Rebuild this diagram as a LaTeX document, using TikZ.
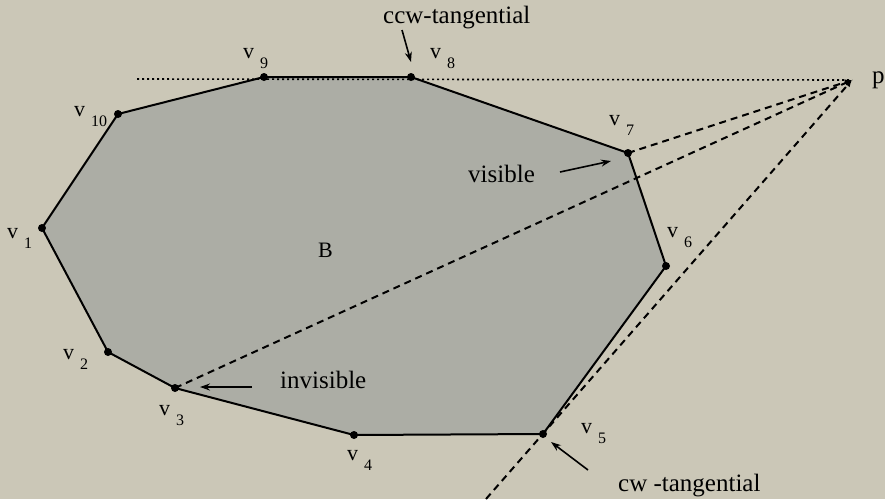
\documentclass[tikz,border=0pt]{standalone}
\usepackage{fontspec}
\setmainfont{Liberation Serif}
\usetikzlibrary{arrows.meta}
\definecolor{bgc}{RGB}{203,199,183}
\definecolor{polyc}{RGB}{172,173,165}
\newcommand{\vlab}[1]{{\fontsize{22}{22}\selectfont v}\kern6pt\raisebox{-10pt}{\fontsize{16}{16}\selectfont #1}}
\begin{document}
\begin{tikzpicture}[x=1pt,y=-1pt,
  vdot/.style={circle,fill=black,inner sep=0pt,minimum size=8pt},
  edge/.style={line width=2pt,line join=round},
  lab/.style={anchor=base west,inner sep=0pt},
  word/.style={anchor=base west,inner sep=0pt,font=\fontsize{25}{25}\selectfont},
  dashline/.style={line width=2pt,dash pattern=on 7pt off 5pt,-{Latex[length=7pt,width=6pt]}},
  dotline/.style={line width=1.6pt,dash pattern=on 2pt off 3pt},
  annot/.style={line width=1.6pt,-{Stealth[length=10pt,width=7pt]}}]
\fill[bgc] (0,0) rectangle (885,499);
\useasboundingbox (0,0) rectangle (885,499);
% vertex positions
\coordinate (P1) at (42,228);
\coordinate (P2) at (108,352);
\coordinate (P3) at (175,388);
\coordinate (P4) at (354,435);
\coordinate (P5) at (543,434);
\coordinate (P6) at (666,266);
\coordinate (P7) at (628,153);
\coordinate (P8) at (411,77);
\coordinate (P9) at (264,77);
\coordinate (P10) at (118,114);
\coordinate (p) at (852,80);
% polygon B
\fill[polyc] (P1) -- (P2) -- (P3) -- (P4) -- (P5) -- (P6) -- (P7) -- (P8) -- (P9) -- (P10) -- cycle;
\node[font=\fontsize{22}{22}\selectfont,lab] (B) at (318,257) {B};
% tangent lines
\coordinate (dotstart) at (137,79);
\draw[dotline] (dotstart) -- (p);
\draw[edge] (P1) -- (P2) -- (P3) -- (P4) -- (P5) -- (P6) -- (P7) -- (P8) -- (P9) -- (P10) -- cycle;
\coordinate (cwend) at (486,499);
\draw[dashline] (P7) -- (p);
\draw[dashline] (P3) -- (p);
\draw[dashline] (cwend) -- (p);
% vertex dots
\foreach \i in {1,...,10} { \node[vdot] (v\i) at (P\i) {}; }
% vertex labels
\node[lab] (l1) at (7,238) {\vlab{1}};
\node[lab] (l2) at (63,359) {\vlab{2}};
\node[lab] (l3) at (159,415) {\vlab{3}};
\node[lab] (l4) at (347,460) {\vlab{4}};
\node[lab] (l5) at (581,433) {\vlab{5}};
\node[lab] (l6) at (667,237) {\vlab{6}};
\node[lab] (l7) at (609,125) {\vlab{7}};
\node[lab] (l8) at (430,58) {\vlab{8}};
\node[lab] (l9) at (243,58) {\vlab{9}};
\node[lab] (l10) at (74,116) {\vlab{10}};
\node[word] (plab) at (872,83) {p};
% annotations
\node[word] (ccw) at (383,23) {ccw-tangential};
\node[word] (vis) at (468,182) {visible};
\node[word] (invis) at (280,388) {invisible};
\node[word] (cw) at (618,491) {cw -tangential};
\coordinate (a1s) at (402,30); \coordinate (a1e) at (411,62);
\coordinate (a2s) at (560,172); \coordinate (a2e) at (611,161);
\coordinate (a3s) at (252,387); \coordinate (a3e) at (200,387);
\coordinate (a4s) at (588,470); \coordinate (a4e) at (551,442);
\draw[annot] (a1s) -- (a1e);
\draw[annot] (a2s) -- (a2e);
\draw[annot] (a3s) -- (a3e);
\draw[annot] (a4s) -- (a4e);
\end{tikzpicture}
\end{document}
